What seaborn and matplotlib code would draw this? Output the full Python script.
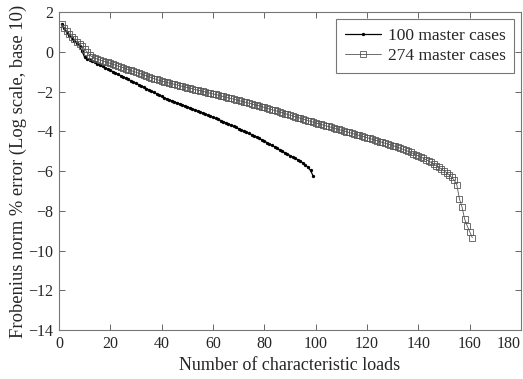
import matplotlib
matplotlib.use("Agg")
import matplotlib.pyplot as plt
import seaborn as sns
import pandas as pd

# Frobenius-norm error versus number of characteristic loads
err_100 = [
    1.40, 1.18, 1.00, 0.85, 0.70, 0.55, 0.42, 0.28, 0.02, -0.28,
    -0.35, -0.41, -0.48, -0.54, -0.61, -0.67, -0.74, -0.80, -0.87, -0.94,
    -1.00, -1.07, -1.13, -1.20, -1.26, -1.33, -1.39, -1.46, -1.52, -1.59,
    -1.65, -1.72, -1.78, -1.85, -1.91, -1.98, -2.04, -2.11, -2.17, -2.25,
    -2.32, -2.37, -2.42, -2.47, -2.52, -2.57, -2.62, -2.67, -2.72, -2.77,
    -2.82, -2.87, -2.93, -2.98, -3.03, -3.08, -3.13, -3.19, -3.24, -3.29,
    -3.35, -3.40, -3.46, -3.52, -3.57, -3.63, -3.69, -3.75, -3.81, -3.87,
    -3.93, -3.99, -4.05, -4.11, -4.17, -4.23, -4.29, -4.36, -4.43, -4.50,
    -4.57, -4.64, -4.71, -4.78, -4.86, -4.94, -5.01, -5.08, -5.15, -5.22,
    -5.29, -5.36, -5.43, -5.51, -5.60, -5.70, -5.82, -5.97, -6.25,
]

err_274 = [
    1.40, 1.22, 1.05, 0.90, 0.76, 0.62, 0.50, 0.38, 0.27, 0.12,
    -0.02, -0.18, -0.26, -0.32, -0.37, -0.42, -0.46, -0.50, -0.54, -0.58,
    -0.63, -0.67, -0.72, -0.76, -0.81, -0.85, -0.90, -0.94, -0.99, -1.03,
    -1.08, -1.12, -1.17, -1.21, -1.26, -1.30, -1.35, -1.39, -1.44, -1.48,
    -1.51, -1.54, -1.58, -1.61, -1.64, -1.67, -1.70, -1.74, -1.77, -1.80,
    -1.83, -1.86, -1.90, -1.93, -1.96, -1.99, -2.02, -2.06, -2.09, -2.12,
    -2.15, -2.18, -2.22, -2.25, -2.28, -2.32, -2.35, -2.38, -2.42, -2.45,
    -2.49, -2.52, -2.55, -2.59, -2.62, -2.66, -2.69, -2.72, -2.76, -2.80,
    -2.84, -2.88, -2.92, -2.95, -2.99, -3.03, -3.07, -3.11, -3.15, -3.19,
    -3.23, -3.27, -3.31, -3.34, -3.38, -3.42, -3.46, -3.50, -3.54, -3.58,
    -3.62, -3.65, -3.69, -3.73, -3.76, -3.80, -3.84, -3.88, -3.91, -3.95,
    -3.99, -4.02, -4.06, -4.10, -4.14, -4.17, -4.21, -4.25, -4.28, -4.32,
    -4.36, -4.40, -4.44, -4.48, -4.52, -4.56, -4.60, -4.64, -4.68, -4.72,
    -4.76, -4.81, -4.86, -4.91, -4.96, -5.01, -5.06, -5.12, -5.18, -5.24,
    -5.30, -5.36, -5.43, -5.50, -5.57, -5.65, -5.73, -5.81, -5.90, -5.99,
    -6.09, -6.20, -6.32, -6.46, -6.70, -7.40, -7.80, -8.40, -8.75, -9.05,
    -9.35,
]

loads_100 = list(range(1, len(err_100) + 1))
loads_274 = list(range(1, len(err_274) + 1))

series_labels = ["100 master cases", "274 master cases"]
x_ticks = [0, 20, 40, 60, 80, 100, 120, 140, 160, 180]
y_ticks = [2, 0, -2, -4, -6, -8, -10, -12, -14]

sns.set_style("ticks")
plt.rcParams["font.family"] = ["Liberation Serif", "DejaVu Serif"]

df100 = pd.DataFrame({"loads": loads_100, "err": err_100})
df274 = pd.DataFrame({"loads": loads_274, "err": err_274})

fig = plt.figure(figsize=(5.23, 3.79), dpi=100)
ax = fig.add_axes([0.1128, 0.1293, 0.8834, 0.8390])

sns.lineplot(data=df100, x="loads", y="err", ax=ax, color="black",
             linewidth=0.9, marker="o", markersize=2.4, markeredgewidth=0,
             markerfacecolor="black", label=series_labels[0])
sns.lineplot(data=df274, x="loads", y="err", ax=ax, color="#555555",
             linewidth=0.6, marker="s", markersize=4.2, markeredgewidth=0.6,
             markerfacecolor="none", markeredgecolor="#555555",
             label=series_labels[1])

ax.set_xlim(0, 180)
ax.set_ylim(-14, 2)
ax.set_xticks(x_ticks)
ax.set_yticks(y_ticks)
ax.tick_params(direction="in", length=4, width=0.7, color="#666666",
               top=True, right=True, labelsize=11.5, pad=4)
# keep the last x tick label inside the figure
ax.get_xticklabels()[-1].set_horizontalalignment("right")
for s in ax.spines.values():
    s.set_color("#777777")
    s.set_linewidth(0.8)
    s.set_visible(True)

ax.set_xlabel("Number of characteristic loads", fontsize=13, labelpad=4)
ax.set_ylabel("Frobenius norm % error (Log scale, base 10)", fontsize=13.3,
              labelpad=1)

leg = ax.legend(loc="upper right", fontsize=12.5, frameon=True, fancybox=False,
                edgecolor="#777777", framealpha=1, handlelength=2.1,
                handletextpad=0.35, borderpad=0.5, labelspacing=0.25,
                borderaxespad=0.4)
leg.get_frame().set_linewidth(0.8)

fig.savefig("out.png", dpi=100)
